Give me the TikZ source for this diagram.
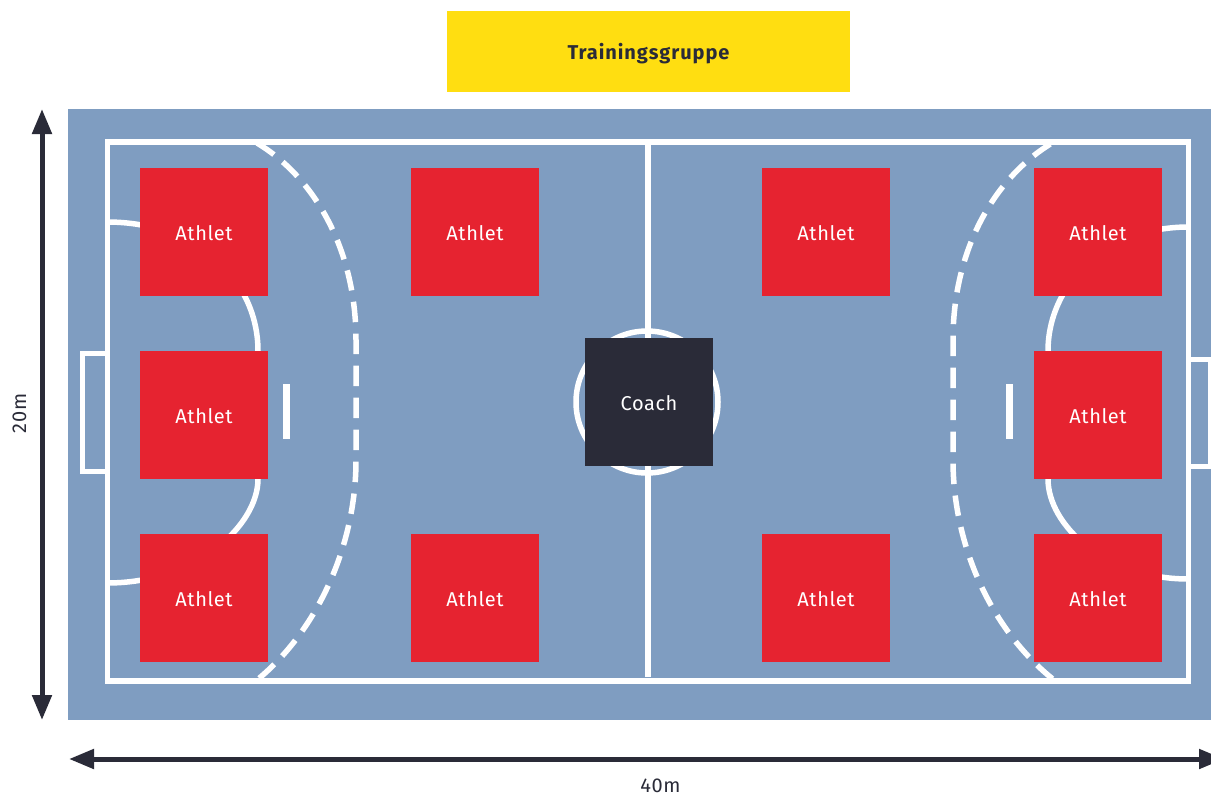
\documentclass[tikz,border=0pt]{standalone}
\usepackage{fontspec}
\setmainfont[LetterSpace=2.8,BoldFeatures={LetterSpace=4.7}]{Fira Sans}
\usetikzlibrary{arrows.meta}
\definecolor{court}{HTML}{7F9DC1}
\definecolor{athred}{HTML}{E62330}
\definecolor{coachdark}{HTML}{2A2B38}
\definecolor{groupyellow}{HTML}{FFDE11}
\newcommand{\lowtext}[2]{\raisebox{-#1pt}[0pt][0pt]{#2}}
\tikzset{
  x=1pt,y=-1pt,
  linewhite/.style={draw=white,line width=5.5pt},
  thinwhite/.style={draw=white,line width=5pt},
  dashwhite/.style={draw=white,line width=5.5pt,dash pattern=on 20.5pt off 11.5pt},
  player/.style={fill=athred,minimum size=128pt,inner sep=0pt,outer sep=0pt,text=white,font=\fontsize{20}{24}\selectfont},
  coachbox/.style={fill=coachdark,minimum size=128pt,inner sep=0pt,outer sep=0pt,text=white,font=\fontsize{20}{24}\selectfont},
  groupbox/.style={fill=groupyellow,minimum width=403pt,minimum height=81pt,inner sep=0pt,outer sep=0pt,text=coachdark,font=\fontsize{20}{24}\selectfont\bfseries},
  dimtext/.style={text=coachdark,inner sep=0pt,font=\fontsize{20}{24}\selectfont},
  dimarrow/.style={draw=coachdark,line width=5pt,{Triangle[length=25pt,width=19pt]}-{Triangle[length=25pt,width=19pt]}},
}
\begin{document}
\begin{tikzpicture}
\clip (0,0) rectangle (1211,796);
\useasboundingbox (0,0) rectangle (1211,796);
\fill[white] (0,0) rectangle (1211,796);
\fill[court] (68,109) rectangle (1211,720);
% outer lines
\draw[linewhite] (107.5,142) rectangle (1188.5,681);
\draw[linewhite] (648,142) -- (648,677);
\draw[linewhite] (647,402) circle[radius=71];
% goals
\draw[thinwhite] (107,353.5) -- (82.5,353.5) -- (82.5,471.5) -- (107,471.5);
\draw[thinwhite] (1188,359) -- (1210.5,359) -- (1210.5,466) -- (1188,466);
% 7m marks
\draw[draw=white,line width=6.5pt] (286.7,384) -- (286.7,439);
\draw[draw=white,line width=6.5pt] (1009.3,384) -- (1009.3,439);
% goal areas
\draw[linewhite] (107,222) .. controls (197,222) and (258,280) .. (258,351) -- (258,479) .. controls (258,525) and (197,583) .. (107,583);
\draw[linewhite] (1188.5,227) .. controls (1105,227) and (1048,285) .. (1048,351) -- (1048,479) .. controls (1048,525) and (1105,579) .. (1188.5,579);
% free throw lines
\draw[dashwhite] (257,143) .. controls (315,178) and (356,250) .. (356,340) -- (356,460) .. controls (356,545) and (318,630) .. (257,680);
\draw[dashwhite,dash phase=30pt] (1052,143) .. controls (994,178) and (953,250) .. (953,340) -- (953,460) .. controls (953,545) and (991,630) .. (1054,680);
% boxes
\node[groupbox] (group) at (648.5,51.5) {\lowtext{7.5}{Trainingsgruppe}};
\node[player] (a1) at (204,232) {\lowtext{8}{Athlet}};
\node[player] (a2) at (204,415) {\lowtext{8}{Athlet}};
\node[player] (a3) at (204,598) {\lowtext{8}{Athlet}};
\node[player] (a4) at (475,232) {\lowtext{8}{Athlet}};
\node[player] (a5) at (475,598) {\lowtext{8}{Athlet}};
\node[player] (a6) at (826,232) {\lowtext{8}{Athlet}};
\node[player] (a7) at (826,598) {\lowtext{8}{Athlet}};
\node[player] (a8) at (1098,232) {\lowtext{8}{Athlet}};
\node[player] (a9) at (1098,415) {\lowtext{8}{Athlet}};
\node[player] (a10) at (1098,598) {\lowtext{8}{Athlet}};
\node[coachbox] (coach) at (649,402) {\lowtext{8}{Coach}};
% dimensions
\coordinate (vtop) at (42,109);
\coordinate (vbot) at (42,720);
\coordinate (hl) at (69,759);
\coordinate (hr) at (1224,759);
\draw[dimarrow] (vtop) -- (vbot);
\draw[dimarrow] (hl) -- (hr);
\node[dimtext,rotate=90] (h) at (19.5,413.5) {20m};
\node[dimtext] (w) at (660.5,786) {40m};
\end{tikzpicture}
\end{document}
